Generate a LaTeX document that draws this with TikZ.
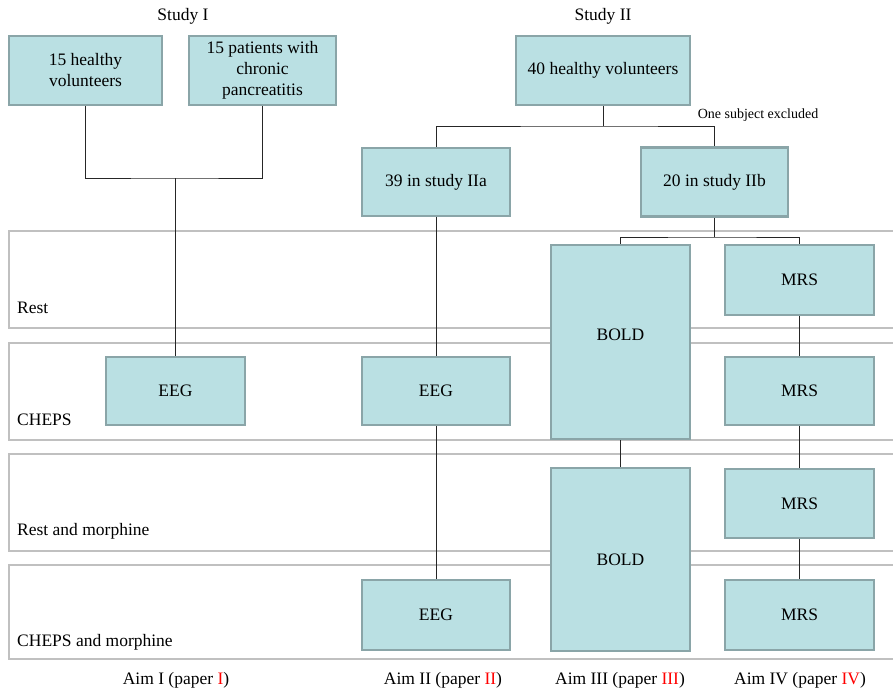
\documentclass[tikz,border=0pt]{standalone}
\usepackage{fontspec}
\setmainfont{Liberation Serif}
\usepackage{tikz}
\usetikzlibrary{calc, positioning}
\definecolor{boxfill}{RGB}{186,224,227}
\definecolor{boxline}{RGB}{138,165,168}
\definecolor{bandline}{RGB}{192,192,192}

\begin{document}
\begin{tikzpicture}[x=1pt, y=-1pt,
  font=\fontsize{17.5}{21}\selectfont,
  box/.style={draw=boxline, fill=boxfill, line width=2.6pt, align=center, inner sep=2pt},
  band/.style={draw=bandline, line width=2.6pt},
  bandlabel/.style={anchor=west, inner sep=0pt},
  link/.style={draw=black!85, line width=0.9pt}]
  \useasboundingbox (0,0) rectangle (893,691);
  \fill [white] (0,0) rectangle (893,691);

  \draw [band] (9,231) rectangle (910,328);
  \draw [band] (9,343) rectangle (910,440);
  \draw [band] (9,454) rectangle (910,551);
  \draw [band] (9,565) rectangle (910,659);
  \node (rest) at (17,308) [bandlabel] {Rest};
  \node (cheps) at (17,420) [bandlabel] {CHEPS};
  \node (restm) at (17,531) [bandlabel] {Rest and morphine};
  \node (chepsm) at (17,642) [bandlabel] {CHEPS and morphine};

  \node (studyI) at (183,16) {Study I};
  \node (studyII) at (603,16) {Study II};

  \node (hvI) at (85.5,70.5) [box, minimum width=153, minimum height=69] {15 healthy\\volunteers};
  \node (cp) at (262.5,70.5) [box, minimum width=147, minimum height=69] {15 patients with\\chronic\\pancreatitis};
  \node (hvII) at (603,70.5) [box, minimum width=174, minimum height=69] {40 healthy volunteers};
  \node (iia) at (436,182) [box, minimum width=148, minimum height=68] {39 in study IIa};
  \node (iib) at (714.5,182) [box, minimum width=147, minimum height=69] {20 in study IIb};

  \node (eegA) at (175.5,391) [box, minimum width=139, minimum height=68] {EEG};
  \node (eegB) at (436,391) [box, minimum width=148, minimum height=68] {EEG};
  \node (eegC) at (436,615) [box, minimum width=148, minimum height=70] {EEG};
  \node (boldA) at (620.5,342) [box, minimum width=139, minimum height=194, text depth=15pt] {BOLD};
  \node (boldB) at (620.5,559.5) [box, minimum width=139, minimum height=183] {BOLD};
  \node (mrsA) at (799.5,280) [box, minimum width=149, minimum height=70] {MRS};
  \node (mrsB) at (799.5,391) [box, minimum width=149, minimum height=68] {MRS};
  \node (mrsC) at (799.5,503.5) [box, minimum width=149, minimum height=69] {MRS};
  \node (mrsD) at (799.5,615) [box, minimum width=149, minimum height=70] {MRS};

  \coordinate (jI) at (175.5,178);
  \coordinate (jII) at (603,126);
  \coordinate (jIIb) at (714.5,237);
  \draw [link] (hvI.south) |- (jI) -| (cp.south);
  \draw [link] (jI) -- (eegA.north);
  \draw [link] (hvII.south) -- (jII);
  \draw [link] (iia.north) |- (jII) -| (iib.north);
  \node (excl) at (758,115) [font=\fontsize{14}{16}\selectfont] {One subject excluded};
  \draw [link] (iib.south) -- (jIIb);
  \draw [link] (boldA.north) |- (jIIb) -| (mrsA.north);
  \draw [link] (iia.south) -- (eegB.north);
  \draw [link] (eegB.south) -- (eegC.north);
  \draw [link] (boldA.south) -- (boldB.north);
  \draw [link] (mrsA.south) -- (mrsB.north);
  \draw [link] (mrsB.south) -- (mrsC.north);
  \draw [link] (mrsC.south) -- (mrsD.north);

  \node (aimI) at (176,680) {Aim I (paper \textcolor{red}{I})};
  \node (aimII) at (443,680) {Aim II (paper \textcolor{red}{II})};
  \node (aimIII) at (620,680) {Aim III (paper \textcolor{red}{III})};
  \node (aimIV) at (800,680) {Aim IV (paper \textcolor{red}{IV})};
\end{tikzpicture}
\end{document}
